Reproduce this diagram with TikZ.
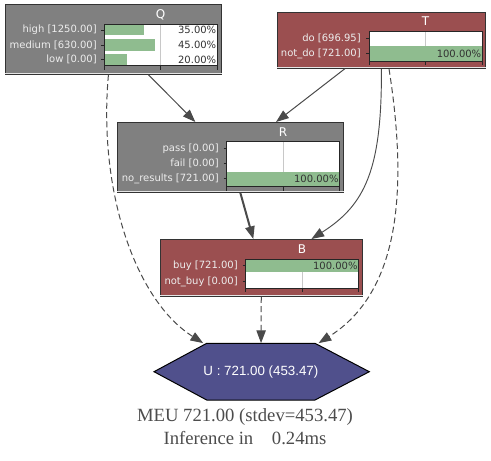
\documentclass[tikz,border=0pt]{standalone}
\usepackage{fontspec}
\setmainfont{Liberation Serif}
\newfontfamily\plotfont{DejaVu Sans}
\newfontfamily\graphfont{Liberation Sans}
\usetikzlibrary{arrows.meta}
\definecolor{chancegray}{HTML}{808080}
\definecolor{decisionred}{HTML}{9B4F50}
\definecolor{utilityblue}{HTML}{50508C}
\definecolor{bargreen}{HTML}{8FBC8F}
\definecolor{edgegray}{HTML}{4A4A4A}
\definecolor{framedark}{HTML}{333333}
\definecolor{gridgray}{HTML}{C8C8C8}

\begin{document}
\begin{tikzpicture}[x=0.75pt,y=-0.75pt]
\tikzset{chance/.style={draw=framedark, fill=chancegray, line width=0.6pt, inner sep=0pt, anchor=north west},
decision/.style={chance, fill=decisionred},
shine/.style={draw=white!90!black, line width=0.6pt},
title/.style={text=white, font=\plotfont\fontsize{9}{11}\selectfont, inner sep=0pt},
state/.style={anchor=east, text=white!93!black, font=\plotfont\fontsize{7.5}{9}\selectfont, inner sep=0pt},
pct/.style={anchor=east, text=framedark, font=\plotfont\fontsize{7.5}{9}\selectfont, inner sep=0pt},
midline/.style={draw=gridgray, line width=0.6pt},
frame/.style={draw=black!85, line width=0.5pt},
tick/.style={draw=black!85, line width=0.5pt},
utility/.style={draw=black, fill=utilityblue, line width=0.75pt},
ulabel/.style={text=white, font=\graphfont\fontsize{10}{12}\selectfont, inner sep=0pt},
caption/.style={anchor=base, text=black!70, font=\fontsize{14}{16}\selectfont, inner sep=0pt},
edge/.style={draw=edgegray, line width=0.75pt, -{Triangle[length=9.5pt,width=7pt]}},
utiledge/.style={edge, dash pattern=on 4.5pt off 2.5pt}}
\useasboundingbox (0,0) rectangle (491,460);

% Q
\node[chance, minimum width=162pt, minimum height=52.5pt] (Q) at (5,4) {};
\draw[shine] ([yshift=1pt]Q.south west) -- ([yshift=1pt]Q.south east);
\node[title] (Q-title) at (160.5,14.5) {Q};
\fill[white] (104,24) rectangle (217,65.3);
\draw[midline] (160.5,24) -- (160.5,65.3);
\fill[bargreen] (104,25) rectangle (143.5,35);
\fill[bargreen] (104,39.3) rectangle (154.9,50.7);
\fill[bargreen] (104,54) rectangle (126.6,65.3);
\draw[frame] (104,24) rectangle (217,65.3);
\draw[tick] (101,30) -- (104,30);
\draw[tick] (101,45) -- (104,45);
\draw[tick] (101,59.7) -- (104,59.7);
\draw[tick] (104,65.3) -- (104,69.5);
\draw[tick] (160.5,65.3) -- (160.5,69.5);
\draw[tick] (217,65.3) -- (217,69.5);
\node[state] (Q-high) at (97,30) {high [1250.00]};
\node[state] (Q-medium) at (97,45) {medium [630.00]};
\node[state] (Q-low) at (97,59.7) {low [0.00]};
\node[pct] (Q-high-pct) at (216.5,30) {35.00\%};
\node[pct] (Q-medium-pct) at (216.5,45) {45.00\%};
\node[pct] (Q-low-pct) at (216.5,59.7) {20.00\%};

% T
\node[decision, minimum width=156pt, minimum height=42pt] (T) at (277,12) {};
\draw[shine] ([yshift=1pt]T.south west) -- ([yshift=1pt]T.south east);
\node[title] (T-title) at (425.5,21) {T};
\fill[white] (369,31) rectangle (482,61);
\draw[midline] (425.5,31) -- (425.5,61);
\fill[bargreen] (369,46.5) rectangle (482,61);
\draw[frame] (369,31) rectangle (482,61);
\draw[tick] (366,38.5) -- (369,38.5);
\draw[tick] (366,53.5) -- (369,53.5);
\draw[tick] (369,61) -- (369,65);
\draw[tick] (425.5,61) -- (425.5,65);
\draw[tick] (482,61) -- (482,65);
\node[state] (T-do) at (361,38) {do [696.95]};
\node[state] (T-notdo) at (361,53.5) {not\_do [721.00]};
\node[pct] (T-notdo-pct) at (481.5,53.5) {100.00\%};

% R
\node[chance, minimum width=169.5pt, minimum height=52.5pt] (R) at (117,122) {};
\draw[shine] ([yshift=1pt]R.south west) -- ([yshift=1pt]R.south east);
\node[title] (R-title) at (283,132) {R};
\fill[white] (226.7,141.7) rectangle (339.3,186.7);
\draw[midline] (283,141.7) -- (283,186.7);
\fill[bargreen] (226.7,171.7) rectangle (339.3,186.7);
\draw[frame] (226.7,141.7) rectangle (339.3,186.7);
\draw[tick] (223.7,148.7) -- (226.7,148.7);
\draw[tick] (223.7,163.5) -- (226.7,163.5);
\draw[tick] (223.7,178.7) -- (226.7,178.7);
\draw[tick] (226.7,186.7) -- (226.7,190.5);
\draw[tick] (283,186.7) -- (283,190.5);
\draw[tick] (339.3,186.7) -- (339.3,190.5);
\node[state] (R-pass) at (219,148.7) {pass [0.00]};
\node[state] (R-fail) at (219,163.5) {fail [0.00]};
\node[state] (R-nores) at (219,178.7) {no\_results [721.00]};
\node[pct] (R-nores-pct) at (338.8,178.7) {100.00\%};

% B
\node[decision, minimum width=151.5pt, minimum height=42.75pt] (B) at (160,239) {};
\draw[shine] ([yshift=1pt]B.south west) -- ([yshift=1pt]B.south east);
\node[title] (B-title) at (302,249) {B};
\fill[white] (245.7,259.3) rectangle (358.3,288.3);
\draw[midline] (302,259.3) -- (302,288.3);
\fill[bargreen] (245.7,259.3) rectangle (358.3,272);
\draw[frame] (245.7,259.3) rectangle (358.3,288.3);
\draw[tick] (242.7,265.5) -- (245.7,265.5);
\draw[tick] (242.7,281.5) -- (245.7,281.5);
\draw[tick] (245.7,288.3) -- (245.7,292);
\draw[tick] (302,288.3) -- (302,292);
\draw[tick] (358.3,288.3) -- (358.3,292);
\node[state] (B-buy) at (238,265.5) {buy [721.00]};
\node[state] (B-notbuy) at (238,281.5) {not\_buy [0.00]};
\node[pct] (B-buy-pct) at (357.8,265.5) {100.00\%};

% U
\draw[utility] (206.7,343.3) -- (315,343.3) -- (369.3,371.7) -- (315,400) -- (206.7,400) -- (154,371.7) -- cycle;
\node[ulabel, minimum width=81.2pt, minimum height=42.5pt] (U) at (260.9,371.7) {U : 721.00 (453.47)};

\node[caption] (MEU) at (245,421) {MEU 721.00 (stdev=453.47)};
\node[caption] (infer) at (245,444) {Inference in\hspace{14pt}0.24ms};

\draw[edge] (Q) -- (R);
\draw[edge] (T) -- (R);
\draw[edge, line width=1.5pt] (R) -- (B);
\draw[edge, line width=0.7pt] (T.south) .. controls (382,170) and (365,205) .. (B.30);
\draw[utiledge] (Q.262) .. controls (98,190) and (135,300) .. (U.north west);
\draw[utiledge] (B) -- (U);
\draw[utiledge] (T.285) .. controls (408,190) and (400,292) .. (U.north east);
\end{tikzpicture}
\end{document}
